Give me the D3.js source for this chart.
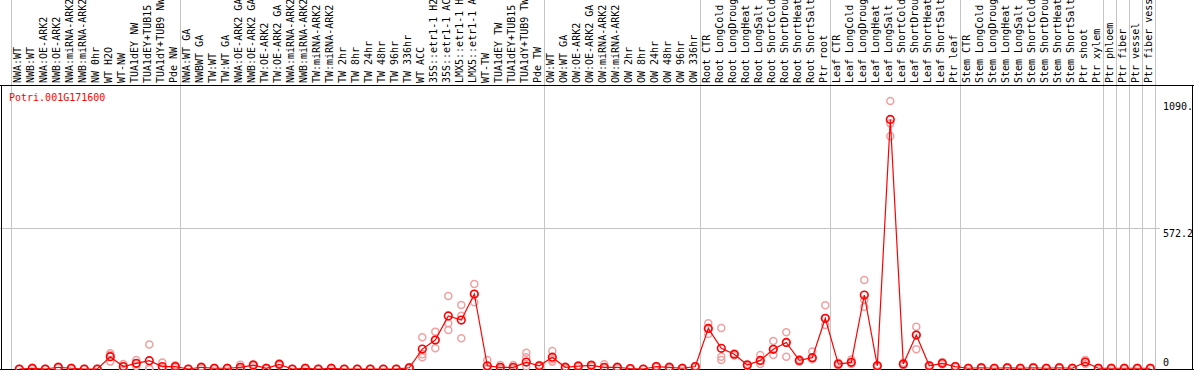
<html>
	<head>
		<title>Potri.001G171600</title>
		<style>
			body { margin: 0; background: #fff; }
			svg { display: block; }
			text { font-family: "DejaVu Sans Mono", monospace; font-size: 10px; }
		</style>
	</head>
	<body>

		<svg id="svg-container" width="1194" height="370"></svg>

		<script src="https://d3js.org/d3.v7.min.js" charset="utf-8"></script>
		<script type="text/javascript">

			var title = 'Potri.001G171600';

			// samples, left to right; groupSizes splits them into the grey-ruled blocks
			var samples = [
				'NWA:WT', 'NWB:WT', 'NWA:OE-ARK2', 'NWB:OE-ARK2', 'NWA:miRNA-ARK2', 'NWB:miRNA-ARK2',
				'NW 0hr', 'WT H2O', 'WT-NW', 'TUA1dEY NW', 'TUA1dEY+TUB15 NW', 'TUA1dY+TUB9 NW', 'Pde NW',
				'NWA:WT GA', 'NWBWT GA', 'TW:WT', 'TW:WT GA', 'NWA:OE-ARK2 GA', 'NWB:OE-ARK2 GA',
				'TW:OE-ARK2', 'TW:OE-ARK2 GA', 'NWA:miRNA-ARK2 GA', 'NWB:miRNA-ARK2 GA', 'TW:miRNA-ARK2',
				'TW:miRNA-ARK2 GA', 'TW 2hr', 'TW 8hr', 'TW 24hr', 'TW 48hr', 'TW 96hr', 'TW 336hr', 'WT ACC',
				'35S::etr1-1 H2O', '35S::etr1-1 ACC', 'LMX5::etr1-1 H2O', 'LMX5::etr1-1 ACC', 'WT-TW',
				'TUA1dEY TW', 'TUA1dEY+TUB15 TW', 'TUA1dY+TUB9 TW', 'Pde TW',
				'OW:WT', 'OW:WT GA', 'OW:OE-ARK2', 'OW:OE-ARK2 GA', 'OW:miRNA-ARK2', 'OW:miRNA-ARK2 GA',
				'OW 2hr', 'OW 8hr', 'OW 24hr', 'OW 48hr', 'OW 96hr', 'OW 336hr',
				'Root CTR', 'Root LongCold', 'Root LongDrought', 'Root LongHeat', 'Root LongSalt',
				'Root ShortCold', 'Root ShortDrought', 'Root ShortHeat', 'Root ShortSalt', 'Ptr root',
				'Leaf CTR', 'Leaf LongCold', 'Leaf LongDrought', 'Leaf LongHeat', 'Leaf LongSalt',
				'Leaf ShortCold', 'Leaf ShortDrought', 'Leaf ShortHeat', 'Leaf ShortSalt', 'Ptr leaf',
				'Stem CTR', 'Stem LongCold', 'Stem LongDrought', 'Stem LongHeat', 'Stem LongSalt',
				'Stem ShortCold', 'Stem ShortDrought', 'Stem ShortHeat', 'Stem ShortSalt', 'Ptr shoot', 'Ptr xylem',
				'Ptr phloem', 'Ptr fiber', 'Ptr vessel', 'Ptr fiber vessel'
			];
			var groupSizes = [13, 28, 12, 10, 10, 11, 1, 1, 1, 1];

			// mean expression per sample
			var means = [
				0, 3, 0, 7, 3, 0, 0, 50, 10, 23, 34, 10, 10,
				0, 7, 3, 3, 7, 16, 3, 19, 0, 3, 0, 3, 0, 0, 0, 0, 0, 5, 81, 118, 216, 199, 305, 13, 7, 7, 28, 13,
				48, 7, 12, 15, 7, 7, 2, 0, 10, 7, 3, 10,
				165, 84, 60, 16, 35, 80, 108, 35, 46, 206,
				20, 27, 301, 13, 1015, 20, 138, 13, 23, 10,
				3, 5, 3, 5, 3, 5, 3, 5, 3, 28, 3,
				3, 3, 3, 3
			];

			// replicate values per sample
			var reps = [
				[0, 0, 0], [3, 0, 5], [0, 0, 0], [7, 5, 10], [3, 0, 5], [0, 0, 0], [0, 0, 0],
				[64, 57, 30], [0, 10, 20], [37, 20, 12], [100, 4, 0], [26, 0, 5], [10, 5, 15],
				[0, 0, 0], [7, 3, 10], [3, 0, 5], [3, 0, 5], [17, 3, 0], [16, 12, 20], [3, 0, 5],
				[19, 15, 23], [0, 0, 0], [3, 0, 5], [0, 0, 0], [3, 0, 5], [0, 0, 0], [0, 0, 0],
				[0, 0, 0], [0, 0, 0], [0, 0, 0], [5, 3, 8], [129, 60, 48], [152, 84, 118],
				[297, 186, 159], [260, 217, 125], [346, 271, 305], [37, 0, 3], [16, 3, 3],
				[16, 3, 3], [66, 48, 10], [13, 10, 16],
				[73, 30, 40], [7, 3, 10], [12, 8, 15], [15, 10, 18], [19, 3, 7], [7, 3, 10],
				[2, 0, 3], [0, 0, 0], [10, 7, 12], [7, 3, 10], [3, 0, 5], [10, 7, 12],
				[186, 142, 165], [167, 50, 37], [60, 55, 63], [16, 12, 20], [57, 20, 35],
				[114, 57, 80], [149, 50, 108], [35, 30, 40], [71, 40, 46], [259, 179, 206],
				[20, 15, 25], [39, 27, 20], [362, 281, 253], [13, 8, 16], [1090, 999, 947],
				[20, 15, 25], [172, 80, 138], [13, 8, 16], [23, 18, 28], [10, 7, 12],
				[3, 0, 5], [5, 3, 8], [3, 0, 5], [5, 3, 8], [3, 0, 5], [5, 3, 8], [3, 0, 5],
				[5, 3, 8], [3, 0, 5], [37, 20, 28], [3, 0, 5],
				[3, 0, 5], [3, 0, 5], [3, 0, 5], [3, 0, 5]
			];

			var yTicks = [572.2];
			var yTickLabels = [['1090.', 1090], ['572.2', 572.2], ['0', 0]];

			var svg = d3.select('#svg-container');

			var x = d3.scaleLinear().domain([0, samples.length - 1]).range([19.3, 1150.3]);
			var y = d3.scaleLinear().domain([0, 1090]).range([369, 101]);

			// group start indices -> grey separators
			var starts = [];
			var acc = 0;
			groupSizes.forEach(function(n) { starts.push(acc); acc += n; });
			starts.push(acc);

			svg.selectAll('line.sep')
				.data(starts)
				.enter().append('line')
				.attr('class', 'sep')
				.attr('x1', function(d) { return Math.round(x(d) - 8) + 0.5; })
				.attr('x2', function(d) { return Math.round(x(d) - 8) + 0.5; })
				.attr('y1', 0).attr('y2', 370)
				.attr('stroke', '#c4c4c4');

			svg.selectAll('line.grid')
				.data(yTicks)
				.enter().append('line')
				.attr('class', 'grid')
				.attr('x1', 0).attr('x2', 1160)
				.attr('y1', function(d) { return Math.round(y(d)) + 0.5; })
				.attr('y2', function(d) { return Math.round(y(d)) + 0.5; })
				.attr('stroke', '#c4c4c4');

			// frame
			svg.append('line').attr('x1', 0).attr('x2', 1194).attr('y1', 85.5).attr('y2', 85.5).attr('stroke', '#000');
			svg.append('line').attr('x1', 0).attr('x2', 1194).attr('y1', 369.5).attr('y2', 369.5).attr('stroke', '#000');
			svg.append('line').attr('x1', 1.5).attr('x2', 1.5).attr('y1', 85.5).attr('y2', 370).attr('stroke', '#000');
			svg.append('line').attr('x1', 1192.5).attr('x2', 1192.5).attr('y1', 85.5).attr('y2', 370).attr('stroke', '#000');

			// sample labels, rotated; the header strip only holds 14 characters
			svg.selectAll('text.lab')
				.data(samples)
				.enter().append('text')
				.attr('class', 'lab')
				.attr('transform', function(d, i) { return 'translate(' + (x(i) + 1.5) + ',83) rotate(-90)'; })
				.attr('fill', '#000')
				.text(function(d) { return d.length > 14 ? d.slice(0, 14) : d; })
				.append('title').text(function(d) { return d; });

			svg.append('text')
				.attr('x', 9).attr('y', 101)
				.attr('fill', '#f00')
				.text(title);

			svg.selectAll('text.tick')
				.data(yTickLabels)
				.enter().append('text')
				.attr('class', 'tick')
				.attr('x', 1163)
				.attr('y', function(d) { return d[1] == 0 ? 365.5 : y(d[1]) + 9; })
				.attr('fill', '#000')
				.text(function(d) { return d[0]; });

			// replicates
			var flat = [];
			reps.forEach(function(r, i) { r.forEach(function(v) { flat.push([i, v]); }); });

			svg.selectAll('circle.rep')
				.data(flat)
				.enter().append('circle')
				.attr('class', 'rep')
				.attr('cx', function(d) { return x(d[0]); })
				.attr('cy', function(d) { return y(d[1]); })
				.attr('r', 3.5)
				.attr('fill', 'none')
				.attr('stroke', '#f0a0a0')
				.attr('stroke-width', 1.5);

			// mean line
			var line = d3.line()
				.x(function(d, i) { return x(i); })
				.y(function(d) { return y(d); });

			svg.append('path')
				.datum(means)
				.attr('d', line)
				.attr('fill', 'none')
				.attr('stroke', '#f00')
				.attr('stroke-width', 1.2);

			svg.selectAll('circle.mean')
				.data(means)
				.enter().append('circle')
				.attr('class', 'mean')
				.attr('cx', function(d, i) { return x(i); })
				.attr('cy', function(d) { return y(d); })
				.attr('r', 3.8)
				.attr('fill', 'none')
				.attr('stroke', '#f00')
				.attr('stroke-width', 1.6);

		</script>
	</body>
</html>
